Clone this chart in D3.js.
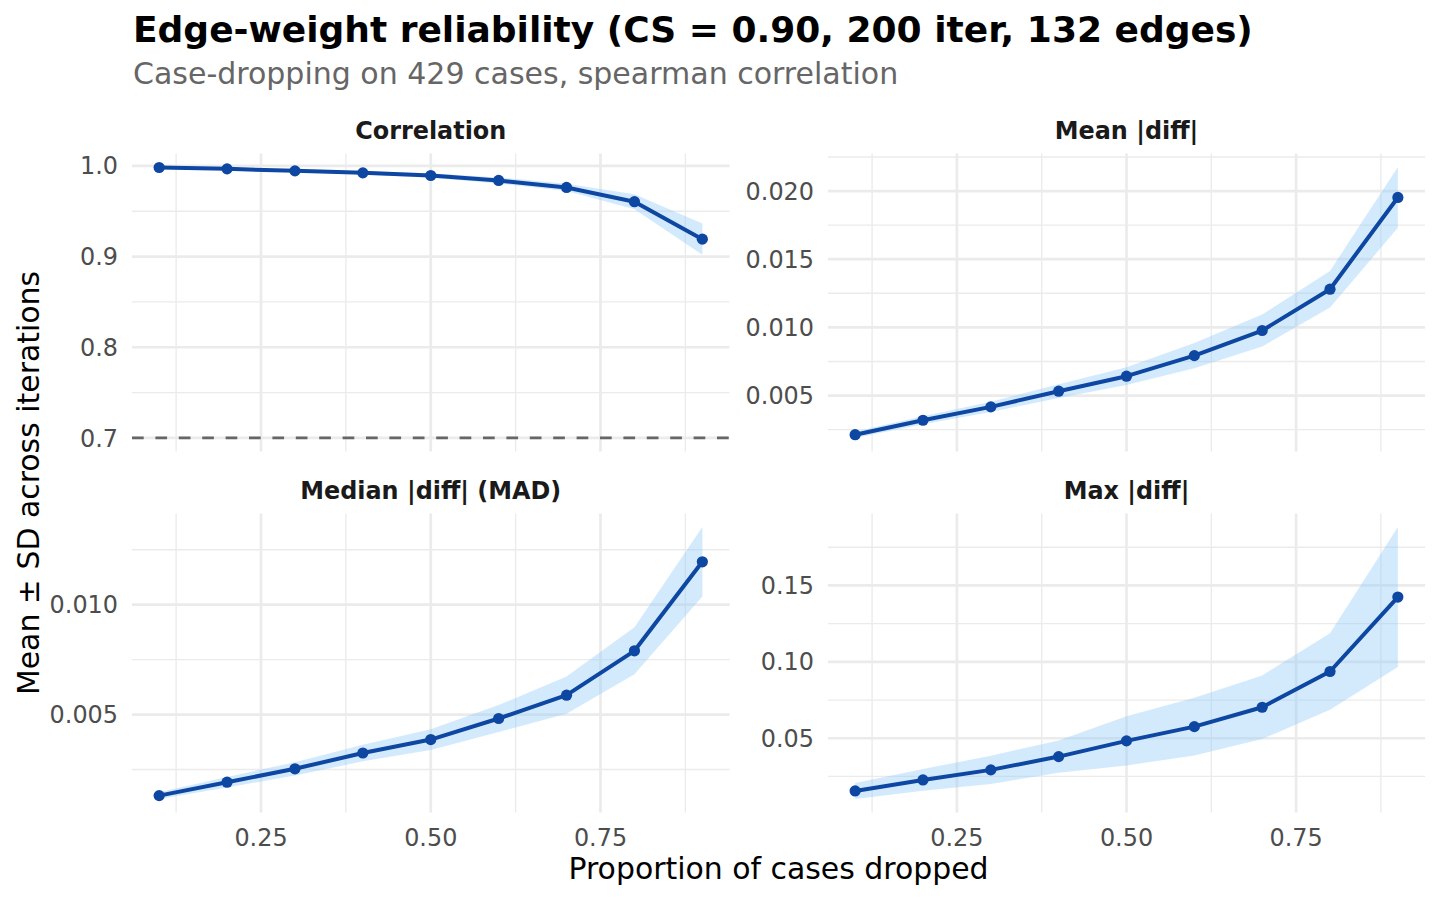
<!DOCTYPE html>
<html>
<head>
<meta charset="utf-8">
<script src="https://cdn.jsdelivr.net/npm/d3@7"></script>
<style>
  body { margin: 0; background: #fff; }
  svg text { font-family: "DejaVu Sans", sans-serif; }
</style>
</head>
<body>
<svg id="chart" width="1440" height="900"></svg>
<script>
// proportion of cases dropped
const props = [0.1, 0.2, 0.3, 0.4, 0.5, 0.6, 0.7, 0.8, 0.9];

// per-metric mean and sd across iterations
const corrMean = [0.9982, 0.9967, 0.9945, 0.9923, 0.9894, 0.9839, 0.9762, 0.9605, 0.9192];
const corrSd   = [0.0005, 0.0008, 0.0012, 0.0017, 0.0024, 0.0033, 0.0040, 0.0083, 0.0172];

const meanDiffMean = [0.00213, 0.00319, 0.00417, 0.00532, 0.00642, 0.00793, 0.00977, 0.01280, 0.01953];
const meanDiffSd   = [0.00024, 0.00030, 0.00037, 0.00050, 0.00065, 0.00092, 0.00118, 0.00134, 0.00223];

const medDiffMean = [0.00131, 0.00192, 0.00253, 0.00325, 0.00386, 0.00482, 0.00588, 0.00790, 0.01195];
const medDiffSd   = [0.00015, 0.00024, 0.00030, 0.00038, 0.00047, 0.00061, 0.00085, 0.00107, 0.00158];

const maxDiffMean = [0.0155, 0.0227, 0.0293, 0.0380, 0.0483, 0.0576, 0.0703, 0.0937, 0.1424];
const maxDiffSd   = [0.0052, 0.0071, 0.0093, 0.0105, 0.0161, 0.0189, 0.0208, 0.0251, 0.0458];

// axis ticks
const xTicks = [0.25, 0.50, 0.75];
const xMinor = [0.125, 0.375, 0.625, 0.875];
const corrTicks = [0.7, 0.8, 0.9, 1.0];
const corrMinor = [0.75, 0.85, 0.95];
const meanDiffTicks = [0.005, 0.010, 0.015, 0.020];
const meanDiffMinor = [0.0025, 0.0075, 0.0125, 0.0175, 0.0225];
const medDiffTicks = [0.005, 0.010];
const medDiffMinor = [0.0025, 0.0075, 0.0125];
const maxDiffTicks = [0.05, 0.10, 0.15];
const maxDiffMinor = [0.025, 0.075, 0.125, 0.175];

const threshold = 0.7;

const panels = [
  { title: "Correlation", mean: corrMean, sd: corrSd, ticks: corrTicks, minor: corrMinor, fmt: d3.format(".1f"), hline: threshold, col: 0, row: 0 },
  { title: "Mean |diff|", mean: meanDiffMean, sd: meanDiffSd, ticks: meanDiffTicks, minor: meanDiffMinor, fmt: d3.format(".3f"), col: 1, row: 0 },
  { title: "Median |diff| (MAD)", mean: medDiffMean, sd: medDiffSd, ticks: medDiffTicks, minor: medDiffMinor, fmt: d3.format(".3f"), col: 0, row: 1 },
  { title: "Max |diff|", mean: maxDiffMean, sd: maxDiffSd, ticks: maxDiffTicks, minor: maxDiffMinor, fmt: d3.format(".2f"), col: 1, row: 1 }
];

const colX = [[132, 729.5], [828, 1425]];
const rowY = [[153.5, 451.5], [513.5, 812.5]];

const lineColor = "#0d47a1";
const bandColor = "#90caf9";
const gridColor = "#ebebeb";

const svg = d3.select("#chart");

// titles
svg.append("text")
  .attr("x", 133).attr("y", 42)
  .attr("font-size", 36).attr("font-weight", "bold").attr("fill", "#000")
  .text("Edge-weight reliability (CS = 0.90, 200 iter, 132 edges)");

svg.append("text")
  .attr("x", 133).attr("y", 84)
  .attr("font-size", 30).attr("fill", "#666666")
  .text("Case-dropping on 429 cases, spearman correlation");

// expand like ggplot (5% each side)
function expand(ext) {
  const pad = (ext[1] - ext[0]) * 0.05;
  return [ext[0] - pad, ext[1] + pad];
}

panels.forEach(function (p) {
  const [x0, x1] = colX[p.col];
  const [y0, y1] = rowY[p.row];

  const rows = props.map((v, i) => ({ prop: v, mean: p.mean[i], lo: p.mean[i] - p.sd[i], hi: p.mean[i] + p.sd[i] }));

  const x = d3.scaleLinear().domain(expand(d3.extent(props))).range([x0, x1]);

  let lo = d3.min(rows, d => d.lo), hi = d3.max(rows, d => d.hi);
  if (p.hline !== undefined) { lo = Math.min(lo, p.hline); hi = Math.max(hi, p.hline); }
  const y = d3.scaleLinear().domain(expand([lo, hi])).range([y1, y0]);

  const g = svg.append("g");

  // grid
  g.selectAll(".ymin").data(p.minor.filter(v => y(v) >= y0 && y(v) <= y1)).enter().append("line")
    .attr("x1", x0).attr("x2", x1).attr("y1", d => y(d)).attr("y2", d => y(d))
    .attr("stroke", gridColor).attr("stroke-width", 1.35);
  g.selectAll(".xmin").data(xMinor).enter().append("line")
    .attr("x1", d => x(d)).attr("x2", d => x(d)).attr("y1", y0).attr("y2", y1)
    .attr("stroke", gridColor).attr("stroke-width", 1.35);
  g.selectAll(".ymaj").data(p.ticks).enter().append("line")
    .attr("x1", x0).attr("x2", x1).attr("y1", d => y(d)).attr("y2", d => y(d))
    .attr("stroke", gridColor).attr("stroke-width", 2.7);
  g.selectAll(".xmaj").data(xTicks).enter().append("line")
    .attr("x1", d => x(d)).attr("x2", d => x(d)).attr("y1", y0).attr("y2", y1)
    .attr("stroke", gridColor).attr("stroke-width", 2.7);

  // y tick labels
  g.selectAll(".ylab").data(p.ticks).enter().append("text")
    .attr("x", x0 - 14).attr("y", d => y(d)).attr("dy", "0.36em")
    .attr("text-anchor", "end").attr("font-size", 23.9).attr("fill", "#4d4d4d")
    .text(d => p.fmt(d));

  // x tick labels only on bottom row
  if (p.row === 1) {
    g.selectAll(".xlab").data(xTicks).enter().append("text")
      .attr("x", d => x(d)).attr("y", 846)
      .attr("text-anchor", "middle").attr("font-size", 23.9).attr("fill", "#4d4d4d")
      .text(d3.format(".2f"));
  }

  // strip
  g.append("text")
    .attr("x", (x0 + x1) / 2).attr("y", y0 - 15)
    .attr("text-anchor", "middle").attr("font-size", 23.9).attr("font-weight", "bold").attr("fill", "#1a1a1a")
    .text(p.title);

  // threshold
  if (p.hline !== undefined) {
    g.append("line")
      .attr("x1", x0).attr("x2", x1).attr("y1", y(p.hline)).attr("y2", y(p.hline))
      .attr("stroke", "#666666").attr("stroke-width", 2.7).attr("stroke-dasharray", "11.7,11.7");
  }

  // ribbon
  g.append("path").datum(rows)
    .attr("d", d3.area().x(d => x(d.prop)).y0(d => y(d.lo)).y1(d => y(d.hi)))
    .attr("fill", bandColor).attr("fill-opacity", 0.4);

  // line + points
  g.append("path").datum(rows)
    .attr("d", d3.line().x(d => x(d.prop)).y(d => y(d.mean)))
    .attr("fill", "none").attr("stroke", lineColor).attr("stroke-width", 4).attr("stroke-linejoin", "round");

  g.selectAll("circle").data(rows).enter().append("circle")
    .attr("cx", d => x(d.prop)).attr("cy", d => y(d.mean)).attr("r", 5.6)
    .attr("fill", lineColor);
});

// axis titles
svg.append("text")
  .attr("x", (colX[0][0] + colX[1][1]) / 2).attr("y", 879)
  .attr("text-anchor", "middle").attr("font-size", 29.9).attr("fill", "#000")
  .text("Proportion of cases dropped");

svg.append("text")
  .attr("transform", "translate(38.5," + ((rowY[0][0] + rowY[1][1]) / 2) + ") rotate(-90)")
  .attr("text-anchor", "middle").attr("font-size", 29.9).attr("fill", "#000")
  .text("Mean ± SD across iterations");
</script>
</body>
</html>
